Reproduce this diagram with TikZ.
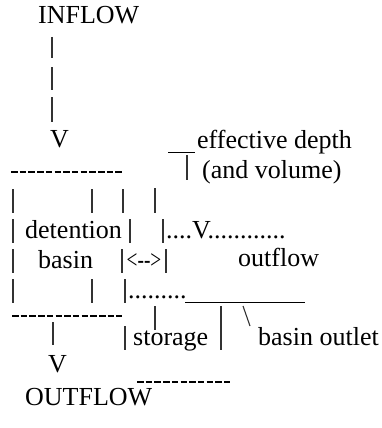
\documentclass[tikz,border=0pt]{standalone}
\usepackage{fontspec}
\setmainfont{Liberation Serif}[Ligatures=NoCommon]
\begin{document}
\begin{tikzpicture}[x=1pt,y=-1pt,
  txt/.style={anchor=base west,inner sep=0pt,font=\fontsize{26}{30}\selectfont},
  bar/.style={line width=1.1pt,black!80},
  hyph/.style={line width=1.6pt,dash pattern=on 6.5pt off 2.2pt},
  uline/.style={line width=1pt}]
\useasboundingbox (0,0) rectangle (382,428);

% inflow and its arrow
\node[txt] (inflow) at (38,24) {INFLOW};
\draw[bar] (52,37) -- (52,58) (52,67) -- (52,90) (52,97) -- (52,122);
\node[txt] (vin) at (50,147) {V};

% effective depth label
\draw[uline] (168,152) -- (195,152);
\node[txt] (effdepth) at (197,148) {effective depth};
\draw[bar] (187,155) -- (187,180);
\node[txt] (andvol) at (202,178) {(and volume)};

% top of the basin
\draw[hyph] (11,172) -- (123,172);
\draw[bar] (13,189) -- (13,213) (92,189) -- (92,213) (123,189) -- (123,213) (155,188) -- (155,213);

% detention row
\draw[bar] (13,219) -- (13,243) (130,219) -- (130,243) (163,219) -- (163,243);
\node[txt] (detention) at (25,238) {detention};
\node[txt] (level) at (166,238) {....V............};

% basin row
\draw[bar] (13,249) -- (13,273) (122,249) -- (122,273) (166,249) -- (166,273);
\node[txt] (basin) at (38,268) {basin};
\node[txt,anchor=base] (range) at (144,268) {\scalebox{0.74}[1]{<{-}{-}>}};
\node[txt] (outflowlbl) at (238,266) {outflow};

% outlet level row
\draw[bar] (13,279) -- (13,303) (92,279) -- (92,303) (125,279) -- (125,303);
\node[txt] (dots) at (128,298) {.........};
\draw[uline] (185,302) -- (305,302);

% bottom of the basin
\draw[hyph] (12,316) -- (122,316);
\draw[bar] (155,306) -- (155,330) (221,306) -- (221,330);
\draw[bar] (243,306) -- (250,326);

% storage row
\draw[bar] (53,322) -- (53,345) (125,326) -- (125,350) (221,326) -- (221,350);
\node[txt] (storage) at (133,345) {storage};
\node[txt] (outlet) at (258,345) {basin outlet};
\node[txt] (vout) at (48,372) {V};
\draw[hyph] (137,382) -- (230,382);
\node[txt] (outflow) at (25,405) {OUTFLOW};
\end{tikzpicture}
\end{document}
